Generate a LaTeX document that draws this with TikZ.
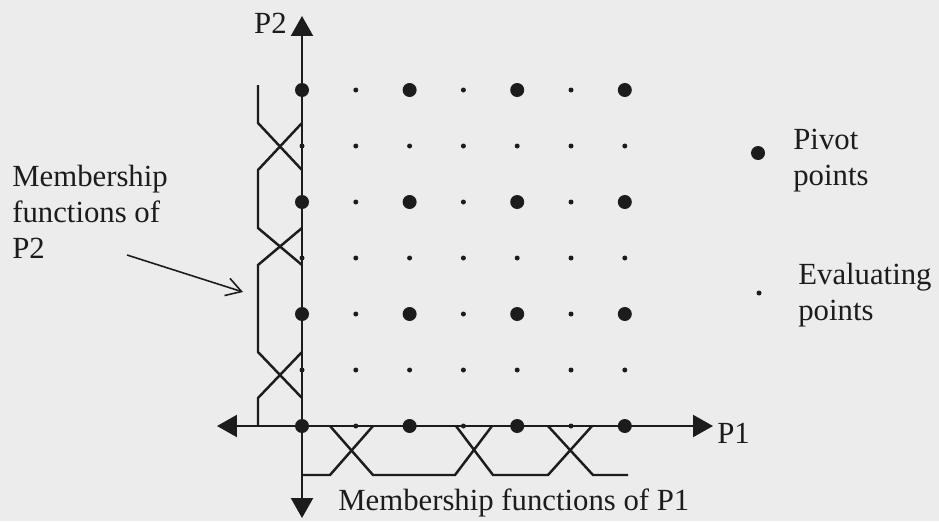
\documentclass[tikz,border=0pt]{standalone}
\usepackage{fontspec}
\setmainfont{Liberation Serif}
\usepackage{tikz}
\usetikzlibrary{arrows.meta, positioning}
\definecolor{mfpaper}{RGB}{236,236,236}
\definecolor{mfink}{RGB}{28,28,28}

\begin{document}
\begin{tikzpicture}[
  x=0.02cm, y=-0.02cm,
  every node/.style={font=\fontsize{17.5}{20.5}\selectfont, text=mfink},
  label/.style={inner sep=0pt, align=left},
  pivot/.style={circle, fill=mfink, inner sep=0pt, minimum size=0.28cm},
  evalpt/.style={circle, fill=mfink, inner sep=0pt, minimum size=0.1cm},
  axis/.style={{Triangle[length=0.4cm,width=0.44cm]}-{Triangle[length=0.4cm,width=0.44cm]},
               line width=1.3pt, draw=mfink},
  mf/.style={line width=1.4pt, draw=mfink, line join=miter},
  pointer/.style={-{Straight Barb[length=0.3cm,width=0.36cm]}, line width=0.9pt, draw=mfink}
]

%% Paper
\fill[mfpaper] (0,0) rectangle (939,521);
\useasboundingbox (0,0) rectangle (939,521);

%% Axes
\coordinate (o)   at (302,426);
\coordinate (p2top) at (302,16);
\coordinate (p2bot) at (302,518);
\coordinate (p1lft) at (217,426);
\coordinate (p1rgt) at (713,426);

\draw[axis] (p2bot) -- (p2top);
\draw[axis] (p1lft) -- (p1rgt);

\node[inner sep=0pt, anchor=base east] (P2) at (287,33) {P2};
\node[inner sep=0pt, anchor=base west] (P1) at (717,443) {P1};

%% Membership functions of P2
\draw[mf] (258,85) -- (258,123) -- (302,170);
\draw[mf] (302,123) -- (258,170) -- (258,228) -- (302,265);
\draw[mf] (302,228) -- (258,265) -- (258,352) -- (302,398);
\draw[mf] (302,352) -- (258,398) -- (258,426);

%% Membership functions of P1
\draw[mf] (302,475) -- (330,475) -- (373,426);
\draw[mf] (330,426) -- (373,475) -- (455,475) -- (492,426);
\draw[mf] (456,426) -- (493,475) -- (548,475) -- (592,426);
\draw[mf] (548,426) -- (593,475) -- (628,475);

%% Grid of pivot and evaluating points
\foreach \c in {0,...,6} {
  \foreach \r in {0,...,6} {
    \pgfmathtruncatemacro{\odd}{mod(\c,2)+mod(\r,2)}
    \ifnum\odd=0
      \node[pivot] (g\c\r) at (302+53.8*\c, 90+56*\r) {};
    \else
      \node[evalpt] (g\c\r) at (302+53.8*\c, 90+56*\r) {};
    \fi
  }
}

%% Labels
\node[label, anchor=north west] (mfp2) at (12,165)
  {Membership\\functions of\\P2};
\coordinate (mfp2tail) at (127,255);
\coordinate (mfp2tip)  at (243,292);
\draw[pointer] (mfp2tail) -- (mfp2tip);

\node[inner sep=0pt, anchor=base west] (mfp1) at (338,510)
  {Membership functions of P1};

%% Legend
\node[pivot] (legpiv) at (758,153) {};
\node[label, anchor=north west] (legpivtxt) at (793,129)
  {Pivot\\points};
\node[evalpt] (legeval) at (759,293) {};
\node[label, anchor=north west] (legevaltxt) at (798,263)
  {Evaluating\\points};

\end{tikzpicture}
\end{document}
